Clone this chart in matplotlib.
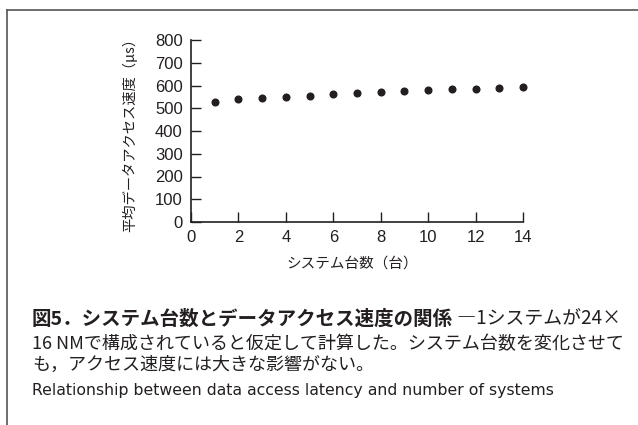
import matplotlib.pyplot as plt
from matplotlib.lines import Line2D

# number of systems vs average data access latency (us)
n_systems = [1, 2, 3, 4, 5, 6, 7, 8, 9, 10, 11, 12, 13, 14]
latency = [529, 540, 545, 550, 556, 562, 567, 572, 574, 580, 584, 586, 589, 594]
x_ticks = [0, 2, 4, 6, 8, 10, 12, 14]
y_ticks = [0, 100, 200, 300, 400, 500, 600, 700, 800]

ylabel = "平均データアクセス速度（μs）"
xlabel = "システム台数（台）"
cap_bold = "図5．システム台数とデータアクセス速度の関係"
cap_rest = " ―1システムが24×"
cap_line2 = "16 NMで構成されていると仮定して計算した。システム台数を変化させて"
cap_line3 = "も，アクセス速度には大きな影響がない。"
cap_en = "Relationship between data access latency and number of systems"

jp = ['Noto Sans CJK JP', 'DejaVu Sans']
num = ['Liberation Sans', 'DejaVu Sans']
ink = '#231f20'

W, H = 638, 425
fig = plt.figure(figsize=(W / 100, H / 100), dpi=100)
ax = fig.add_axes([191 / W, 1 - 222 / H, (523 - 191) / W, (222 - 40) / H])

ax.plot(n_systems, latency, 'o', color=ink, markersize=4.8, clip_on=False)
ax.set_xlim(0, 14)
ax.set_ylim(0, 800)
ax.set_xticks(x_ticks)
ax.set_yticks(y_ticks)
for s in ['top', 'right']:
	ax.spines[s].set_visible(False)
for s in ['left', 'bottom']:
	ax.spines[s].set_color(ink)
	ax.spines[s].set_linewidth(1.2)
ax.tick_params(direction='in', length=7, width=1.0, color=ink, labelcolor=ink, labelsize=12)
ax.tick_params(axis='x', pad=6)
ax.tick_params(axis='y', pad=6)
for lab in ax.get_xticklabels() + ax.get_yticklabels():
	lab.set_family(num)

fig.text(130 / W, 1 - 131 / H, ylabel, rotation=90, ha='center', va='center',
	family=jp, fontsize=10.3, color=ink)
fig.text(352 / W, 1 - 264 / H, xlabel, ha='center', va='center',
	family=jp, fontsize=10.5, color=ink)

# caption
t1 = fig.text(32 / W, 1 - 319 / H, cap_bold, ha='left', va='center',
	family=jp, fontsize=14, fontweight='bold', color=ink)
ax.annotate(cap_rest, xy=(1, 0.5), xycoords=t1, ha='left', va='center',
	family=jp, fontsize=13.6, color=ink, annotation_clip=False)
fig.text(32 / W, 1 - 344 / H, cap_line2, ha='left', va='center',
	family=jp, fontsize=13, color=ink)
fig.text(32 / W, 1 - 365 / H, cap_line3, ha='left', va='center',
	family=jp, fontsize=13, color=ink)
fig.text(32 / W, 1 - 391 / H, cap_en, ha='left', va='center',
	family=['DejaVu Sans'], fontsize=11.3, color=ink)

# frame lines at left and top
fig.add_artist(Line2D([6.5 / W, 6.5 / W], [0, 1 - 9.5 / H], color='#555555', lw=1.2))
fig.add_artist(Line2D([6.5 / W, 1], [1 - 9.5 / H, 1 - 9.5 / H], color='#555555', lw=1.2))

fig.savefig('out.png', dpi=100)
